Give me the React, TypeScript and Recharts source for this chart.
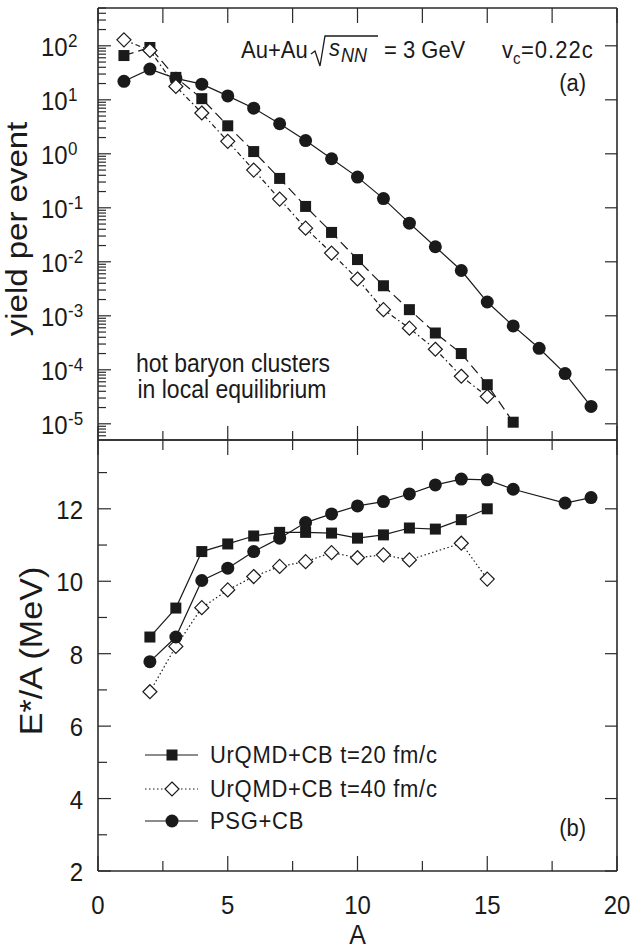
import React from 'react';
import { LineChart, Line, XAxis, YAxis } from 'recharts';

const FONT = '"Liberation Sans", Arial, Helvetica, sans-serif';
const INK = '#1a1a1a';
const AX = '#2a2a2a';

// ---------- panel (a): yield per event ----------
const aYield20 = [1, 2, 3, 4, 5, 6, 7, 8, 9, 10, 11, 12, 13, 14, 15, 16];
const yield20 = [66, 93, 26, 10.5, 3.3, 1.1, 0.35, 0.106, 0.035, 0.011, 0.0036, 0.0013, 0.00048, 0.0002, 5.3e-5, 1.07e-5];
const aYield40 = [1, 2, 3, 4, 5, 6, 7, 8, 9, 10, 11, 12, 13, 14, 15];
const yield40 = [129, 82, 17.7, 5.7, 1.7, 0.5, 0.145, 0.042, 0.0145, 0.0048, 0.0013, 0.00059, 0.00024, 7.6e-5, 3.2e-5];
const aYieldPSG = [1, 2, 3, 4, 5, 6, 7, 8, 9, 10, 11, 12, 13, 14, 15, 16, 17, 18, 19];
const yieldPSG = [22, 37, 25, 19.5, 11.8, 7.0, 3.6, 1.76, 0.81, 0.37, 0.148, 0.052, 0.019, 0.0069, 0.0018, 0.00065, 0.00025, 8.5e-5, 2.1e-5];

// ---------- panel (b): E*/A ----------
const aE20 = [2, 3, 4, 5, 6, 7, 8, 9, 10, 11, 12, 13, 14, 15];
const e20 = [8.46, 9.26, 10.82, 11.03, 11.25, 11.35, 11.35, 11.33, 11.19, 11.28, 11.47, 11.44, 11.7, 12.0];
const aE40 = [2, 3, 4, 5, 6, 7, 8, 9, 10, 11, 12, 14, 15];
const e40 = [6.95, 8.2, 9.27, 9.76, 10.13, 10.41, 10.54, 10.79, 10.65, 10.73, 10.59, 11.05, 10.06];
const aEPSG = [2, 3, 4, 5, 6, 7, 8, 9, 10, 11, 12, 13, 14, 15, 16, 18, 19];
const ePSG = [7.78, 8.46, 10.02, 10.36, 10.82, 11.19, 11.62, 11.86, 12.08, 12.2, 12.41, 12.66, 12.82, 12.8, 12.54, 12.16, 12.31];

// ---------- axes ----------
const xTicks = [0, 2.5, 5, 7.5, 10, 12.5, 15, 17.5, 20];
const xLabeled = [0, 5, 10, 15, 20];
const decades = [-5, -4, -3, -2, -1, 0, 1, 2];
const minorMult = [2, 3, 4, 5, 6, 7, 8, 9];
const yDomainTop: [number, number] = [Math.pow(10, -5.3), Math.pow(10, 2.7)];
const yTicksBottom = [2, 3, 4, 5, 6, 7, 8, 9, 10, 11, 12, 13];
const yLabeledBottom = [2, 4, 6, 8, 10, 12];
const yDomainBottom: [number, number] = [2, 13.9];

const seriesNames = ['UrQMD+CB t=20 fm/c', 'UrQMD+CB t=40 fm/c', 'PSG+CB'];

const logTicks: number[] = [];
[-6, ...decades].forEach((d) => {
  [1, ...minorMult].forEach((m) => {
    const v = m * Math.pow(10, d);
    if (v >= yDomainTop[0] && v <= yDomainTop[1]) logTicks.push(v);
  });
});

const pts = (xs: number[], ys: number[]) => xs.map((a, i) => ({ a, v: ys[i] }));

// ---------- helpers ----------
function ST(props: any) {
  const { x, y, size, anchor = 'start', rotate = false, children, ...rest } = props;
  const t = `translate(${x} ${y}) scale(1 1.1)${rotate ? ' rotate(-90)' : ''}`;
  return (
    <text transform={t} fontSize={size} textAnchor={anchor} fontFamily={FONT} fill={INK} {...rest}>
      {children}
    </text>
  );
}

const sqDot = (p: any) =>
  p.cx == null ? <g key={p.index} /> : (
    <rect key={p.index} x={p.cx - 5.5} y={p.cy - 5.5} width={11} height={11} fill={INK} />
  );
const diaDot = (p: any) =>
  p.cx == null ? <g key={p.index} /> : (
    <path
      key={p.index}
      d={`M${p.cx},${p.cy - 7}L${p.cx + 7},${p.cy}L${p.cx},${p.cy + 7}L${p.cx - 7},${p.cy}Z`}
      fill="#fff"
      stroke={INK}
      strokeWidth={1.2}
    />
  );
const cirDot = (p: any) =>
  p.cx == null ? <g key={p.index} /> : <circle key={p.index} cx={p.cx} cy={p.cy} r={6.5} fill={INK} />;

// ticks
const LogTickLeft = (props: any) => {
  const { x, y, payload } = props;
  const v = payload.value;
  const e = Math.round(Math.log10(v));
  const major = Math.abs(v / Math.pow(10, e) - 1) < 1e-6;
  return (
    <g>
      <line x1={x} x2={x + (major ? 13 : 8)} y1={y} y2={y} stroke={AX} strokeWidth={1.2} />
      {major && (
        <g>
          <ST x={x - 57} y={y + 10} size={24}>10</ST>
          <ST x={x - 30} y={y + 1} size={17}>{e < 0 ? '-' + Math.abs(e) : String(e)}</ST>
        </g>
      )}
    </g>
  );
};
const LogTickRight = (props: any) => {
  const { x, y } = props;
  return <line x1={x - 12} x2={x} y1={y} y2={y} stroke={AX} strokeWidth={1.2} />;
};
const LinTickLeft = (props: any) => {
  const { x, y, payload } = props;
  const v = payload.value;
  const major = yLabeledBottom.includes(v);
  return (
    <g>
      <line x1={x} x2={x + (major ? 13 : 9)} y1={y} y2={y} stroke={AX} strokeWidth={1.2} />
      {major && (
        <ST x={x - 15} y={y + 10} size={24} anchor="end">{String(v)}</ST>
      )}
    </g>
  );
};
const LinTickRight = (props: any) => {
  const { x, y, payload } = props;
  if (!yLabeledBottom.includes(payload.value)) return <g />;
  return <line x1={x - 12} x2={x} y1={y} y2={y} stroke={AX} strokeWidth={1.2} />;
};
const XTickUp = (props: any) => {
  const { x, y, payload } = props;
  const major = payload.value % 5 === 0;
  return <line x1={x} x2={x} y1={y} y2={y - (major ? 14 : 9)} stroke={AX} strokeWidth={1.2} />;
};
const XTickDown = (props: any) => {
  const { x, y, payload } = props;
  const major = payload.value % 5 === 0;
  return <line x1={x} x2={x} y1={y} y2={y + (major ? 15 : 10)} stroke={AX} strokeWidth={1.2} />;
};
const XTickTopPanel = (props: any) => {
  const { x, y } = props;
  return <line x1={x} x2={x} y1={y} y2={y + 15} stroke={AX} strokeWidth={1.2} />;
};
const XTickBottomLabeled = (props: any) => {
  const { x, y, payload } = props;
  const v = payload.value;
  const major = v % 5 === 0;
  return (
    <g>
      <line x1={x} x2={x} y1={y} y2={y - (major ? 15 : 10)} stroke={AX} strokeWidth={1.2} />
      {xLabeled.includes(v) && (
        <ST x={x} y={y + 43} size={24} anchor="middle">{String(v)}</ST>
      )}
    </g>
  );
};

const axLine = { stroke: AX, strokeWidth: 1.6 };
const noTickLine = { tickLine: false, tickSize: 0, tickMargin: 0, interval: 0 as const };

export default function App() {
  const lineStroke = { stroke: INK, strokeWidth: 1.2 };
  return (
    <div style={{ position: 'absolute', left: 0, top: 0, width: 643, height: 950, background: '#fff', fontFamily: FONT }}>
      <div style={{ position: 'absolute', left: 0, top: 0 }}>
        <LineChart width={643} height={441} margin={{ top: 7, right: 25, bottom: 0, left: 97 }}>
          <XAxis xAxisId="b" dataKey="a" type="number" domain={[0, 20]} allowDataOverflow ticks={xTicks}
            orientation="bottom" height={1} axisLine={axLine} tick={XTickUp} {...noTickLine} />
          <XAxis xAxisId="t" dataKey="a" type="number" domain={[0, 20]} allowDataOverflow ticks={xTicks}
            orientation="top" height={1} axisLine={axLine} tick={XTickTopPanel} {...noTickLine} />
          <YAxis yAxisId="l" scale="log" type="number" domain={yDomainTop} allowDataOverflow ticks={logTicks}
            orientation="left" width={1} axisLine={axLine} tick={LogTickLeft} {...noTickLine} />
          <YAxis yAxisId="r" scale="log" type="number" domain={yDomainTop} allowDataOverflow
            ticks={decades.map((d) => Math.pow(10, d))}
            orientation="right" width={1} axisLine={axLine} tick={LogTickRight} {...noTickLine} />
          <Line xAxisId="b" yAxisId="l" data={pts(aYieldPSG, yieldPSG)} dataKey="v" name={seriesNames[2]}
            {...lineStroke} dot={cirDot} isAnimationActive={false} />
          <Line xAxisId="b" yAxisId="l" data={pts(aYield20, yield20)} dataKey="v" name={seriesNames[0]}
            {...lineStroke} strokeDasharray="10 5" dot={sqDot} isAnimationActive={false} />
          <Line xAxisId="b" yAxisId="l" data={pts(aYield40, yield40)} dataKey="v" name={seriesNames[1]}
            {...lineStroke} strokeDasharray="5 3 1.5 3" dot={diaDot} isAnimationActive={false} />
        </LineChart>
      </div>
      <div style={{ position: 'absolute', left: 0, top: 439 }}>
        <LineChart width={643} height={511} margin={{ top: 0, right: 25, bottom: 78, left: 97 }}>
          <XAxis xAxisId="b" dataKey="a" type="number" domain={[0, 20]} allowDataOverflow ticks={xTicks}
            orientation="bottom" height={1} axisLine={axLine} tick={XTickBottomLabeled} {...noTickLine} />
          <XAxis xAxisId="t" dataKey="a" type="number" domain={[0, 20]} allowDataOverflow ticks={xTicks}
            orientation="top" height={1} axisLine={axLine} tick={XTickDown} {...noTickLine} />
          <YAxis yAxisId="l" type="number" domain={yDomainBottom} allowDataOverflow ticks={yTicksBottom}
            orientation="left" width={1} axisLine={axLine} tick={LinTickLeft} {...noTickLine} />
          <YAxis yAxisId="r" type="number" domain={yDomainBottom} allowDataOverflow ticks={yTicksBottom}
            orientation="right" width={1} axisLine={axLine} tick={LinTickRight} {...noTickLine} />
          <Line xAxisId="b" yAxisId="l" data={pts(aE40, e40)} dataKey="v" name={seriesNames[1]}
            {...lineStroke} strokeDasharray="1.5 2.5" dot={diaDot} isAnimationActive={false} />
          <Line xAxisId="b" yAxisId="l" data={pts(aE20, e20)} dataKey="v" name={seriesNames[0]}
            {...lineStroke} dot={sqDot} isAnimationActive={false} />
          <Line xAxisId="b" yAxisId="l" data={pts(aEPSG, ePSG)} dataKey="v" name={seriesNames[2]}
            {...lineStroke} dot={cirDot} isAnimationActive={false} />
        </LineChart>
      </div>
      <svg width={643} height={950} style={{ position: 'absolute', left: 0, top: 0, pointerEvents: 'none' }}>
        {/* axis titles */}
        <ST x={27} y={229} size={30} anchor="middle" rotate>yield per event</ST>
        <ST x={42} y={651} size={31} anchor="middle" rotate>E*/A (MeV)</ST>
        <ST x={357.5} y={944} size={25} anchor="middle">A</ST>
        {/* panel (a) annotations */}
        <ST x={241} y={58} size={22}>Au+Au</ST>
        <path d="M311,54 L315,51 L320,66 L325,36 L378,36" fill="none" stroke={INK} strokeWidth={1.3} />
        <ST x={329} y={56} size={22} fontStyle="italic">s</ST>
        <ST x={341} y={62} size={18} fontStyle="italic">NN</ST>
        <ST x={384} y={58} size={22}>= 3 GeV</ST>
        <ST x={502} y={58} size={22}>v</ST>
        <ST x={513} y={64} size={15}>c</ST>
        <ST x={521} y={58} size={22} letterSpacing={1}>=0.22c</ST>
        <ST x={586} y={91} size={22} anchor="end">(a)</ST>
        <ST x={233} y={372} size={23} anchor="middle">hot baryon clusters</ST>
        <ST x={232} y={398} size={23} anchor="middle">in local equilibrium</ST>
        {/* panel (b) */}
        <ST x={586} y={836} size={22} anchor="end">(b)</ST>
        {/* legend */}
        <line x1={145} x2={198} y1={755} y2={755} stroke={INK} strokeWidth={1.2} />
        {sqDot({ cx: 172, cy: 755, index: 'l1' })}
        <ST x={210} y={763} size={22} letterSpacing={0.7}>{seriesNames[0]}</ST>
        <line x1={145} x2={198} y1={789} y2={789} stroke={INK} strokeWidth={1.2} strokeDasharray="1.5 2.5" />
        {diaDot({ cx: 172, cy: 789, index: 'l2' })}
        <ST x={210} y={797} size={22} letterSpacing={0.7}>{seriesNames[1]}</ST>
        <line x1={145} x2={198} y1={821} y2={821} stroke={INK} strokeWidth={1.2} />
        {cirDot({ cx: 172, cy: 821, index: 'l3' })}
        <ST x={210} y={829} size={22} letterSpacing={0.7}>{seriesNames[2]}</ST>
      </svg>
    </div>
  );
}
